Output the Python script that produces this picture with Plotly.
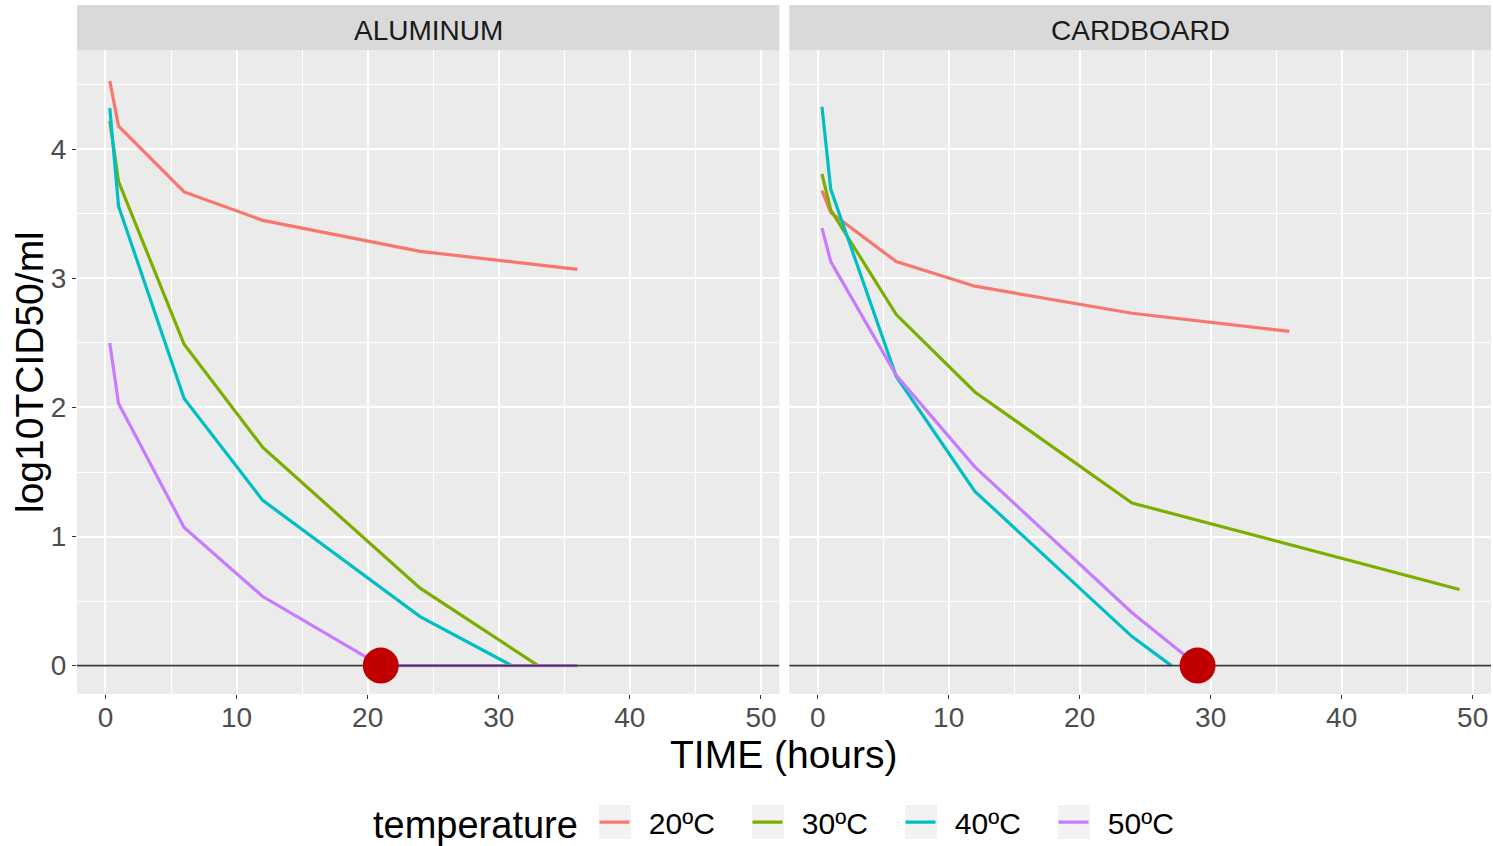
import plotly.graph_objects as go

# ---------------- data ----------------
temps = ["20ºC", "30ºC", "40ºC", "50ºC"]
colors = ["#F8766D", "#7CAE00", "#00BFC4", "#C77CFF"]
panels = ["ALUMINUM", "CARDBOARD"]

al_20_t = [0.33, 1, 6, 12, 24, 36]
al_20_v = [4.53, 4.18, 3.67, 3.45, 3.21, 3.07]
al_30_t = [0.33, 1, 6, 12, 24, 33]
al_30_v = [4.22, 3.75, 2.49, 1.69, 0.60, 0.0]
al_40_t = [0.33, 1, 6, 12, 24, 31]
al_40_v = [4.32, 3.56, 2.07, 1.28, 0.38, 0.0]
al_50_t = [0.33, 1, 6, 12, 21, 36]
al_50_v = [2.50, 2.03, 1.07, 0.535, 0.0, 0.0]

cb_20_t = [0.33, 1, 6, 12, 24, 36]
cb_20_v = [3.68, 3.51, 3.13, 2.94, 2.73, 2.59]
cb_30_t = [0.33, 1, 6, 12, 24, 49]
cb_30_v = [3.81, 3.53, 2.72, 2.12, 1.26, 0.59]
cb_40_t = [0.33, 1, 6, 12, 24, 27]
cb_40_v = [4.33, 3.69, 2.24, 1.35, 0.225, 0.0]
cb_50_t = [0.33, 1, 6, 12, 24, 29]
cb_50_v = [3.39, 3.13, 2.25, 1.54, 0.41, 0.0]

dot_al_t = [21]
dot_al_v = [0]
dot_cb_t = [29]
dot_cb_v = [0]

ref_level = 0  # horizontal reference line

aluminum = [(al_20_t, al_20_v), (al_30_t, al_30_v), (al_40_t, al_40_v), (al_50_t, al_50_v)]
cardboard = [(cb_20_t, cb_20_v), (cb_30_t, cb_30_v), (cb_40_t, cb_40_v), (cb_50_t, cb_50_v)]

x_ticks = [0, 10, 20, 30, 40, 50]
y_ticks = [0, 1, 2, 3, 4]

# ---------------- figure ----------------
FONT = "Arial, Liberation Sans, sans-serif"
LW = 3.2
W, H = 1493, 846
ML, MR, MT, MB = 77, 2, 5, 152
PW, PH = W - ML - MR, H - MT - MB
xr = [-2.17, 51.4]
yr = [-0.22, 4.77]
panel_top = 0.9347
doms = [[0, 0.4967], [0.5037, 1.0]]
LEG_PAD = "\u00a0\u2009"  # small gap between legend key and label


def px_x(p):
    return (p - ML) / PW


def px_y(p):
    return (H - MB - p) / PH


fig = go.Figure()

for i, (t, v) in enumerate(aluminum):
    fig.add_trace(go.Scatter(x=t, y=v, mode="lines", name=LEG_PAD + temps[i],
                             line=dict(color=colors[i], width=LW),
                             legendgroup=temps[i], showlegend=True,
                             xaxis="x", yaxis="y"))
for i, (t, v) in enumerate(cardboard):
    fig.add_trace(go.Scatter(x=t, y=v, mode="lines", name=temps[i],
                             line=dict(color=colors[i], width=LW),
                             legendgroup=temps[i], showlegend=False,
                             xaxis="x2", yaxis="y2"))

# reference line at zero (drawn over lines, under the dots)
for xa, ya in [("x", "y"), ("x2", "y2")]:
    fig.add_trace(go.Scatter(x=xr, y=[ref_level, ref_level], mode="lines", showlegend=False,
                             hoverinfo="skip", line=dict(color="#3A3A3A", width=1.8),
                             xaxis=xa, yaxis=ya))

fig.add_trace(go.Scatter(x=dot_al_t, y=dot_al_v, mode="markers", showlegend=False,
                         marker=dict(color="#C00000", size=36), xaxis="x", yaxis="y"))
fig.add_trace(go.Scatter(x=dot_cb_t, y=dot_cb_v, mode="markers", showlegend=False,
                         marker=dict(color="#C00000", size=36), xaxis="x2", yaxis="y2"))

xaxis_common = dict(range=xr, tickvals=x_ticks, showgrid=True, gridcolor="white", gridwidth=1.8,
                    minor=dict(dtick=5, tick0=0, showgrid=True, gridcolor="white", gridwidth=0.9),
                    zeroline=False, showline=False, ticks="outside", ticklen=4, tickwidth=1.2,
                    tickcolor="#333333", tickfont=dict(size=28, color="#4D4D4D", family=FONT),
                    ticklabelstandoff=-6, fixedrange=True)
yaxis_common = dict(range=yr, tickvals=y_ticks, showgrid=True, gridcolor="white", gridwidth=1.8,
                    minor=dict(dtick=0.5, tick0=0, showgrid=True, gridcolor="white", gridwidth=0.9),
                    zeroline=False, showline=False, domain=[0, panel_top], fixedrange=True)

fig.update_layout(
    width=W, height=H,
    margin=dict(l=ML, r=MR, t=MT, b=MB, autoexpand=False),
    paper_bgcolor="white", plot_bgcolor="#EBEBEB",
    font=dict(family=FONT),
    xaxis=dict(domain=doms[0], anchor="y", **xaxis_common),
    xaxis2=dict(domain=doms[1], anchor="y2", **xaxis_common),
    yaxis=dict(anchor="x", ticks="outside", ticklen=4, tickwidth=1.2, tickcolor="#333333",
               tickfont=dict(size=28, color="#4D4D4D", family=FONT), ticklabelstandoff=0,
               **yaxis_common),
    yaxis2=dict(anchor="x2", showticklabels=False, ticks="", **yaxis_common),
    legend=dict(orientation="h", x=0.366, xanchor="left", y=-0.186, yanchor="middle",
                font=dict(size=30, color="black"), entrywidth=108, itemwidth=30,
                bgcolor="rgba(0,0,0,0)"),
    showlegend=True,
)

# facet strips
for dom, label in zip(doms, panels):
    fig.add_shape(type="rect", xref="paper", yref="paper", x0=dom[0], x1=dom[1],
                  y0=panel_top, y1=1.0, fillcolor="#D9D9D9", line=dict(width=0), layer="below")
    fig.add_annotation(x=(dom[0] + dom[1]) / 2, y=px_y(30), xref="paper", yref="paper",
                       text=label, showarrow=False, font=dict(size=28, color="#1A1A1A"),
                       xanchor="center", yanchor="middle")

# light legend key backgrounds (ggplot style)
for k0 in [599, 752, 905, 1058]:
    fig.add_shape(type="rect", xref="paper", yref="paper", x0=px_x(k0), x1=px_x(k0 + 32),
                  y0=px_y(839), y1=px_y(805), fillcolor="#F2F2F2", line=dict(width=0),
                  layer="below")

# axis titles
fig.add_annotation(text="TIME (hours)", xref="paper", yref="paper", x=0.5, y=px_y(755),
                   showarrow=False, font=dict(size=39, color="black"), yanchor="middle")
fig.add_annotation(text="log10TCID50/ml", xref="paper", yref="paper", x=px_x(30), y=panel_top / 2,
                   showarrow=False, textangle=-90, font=dict(size=39, color="black"),
                   xanchor="center", yanchor="middle")
# legend title
fig.add_annotation(text="temperature", xref="paper", yref="paper", x=px_x(476), y=px_y(825),
                   showarrow=False, font=dict(size=38, color="black"),
                   xanchor="center", yanchor="middle")

fig.write_html("out.html", config={"displayModeBar": False},
               post_script="document.body.style.margin='0';document.body.style.overflow='hidden';")
